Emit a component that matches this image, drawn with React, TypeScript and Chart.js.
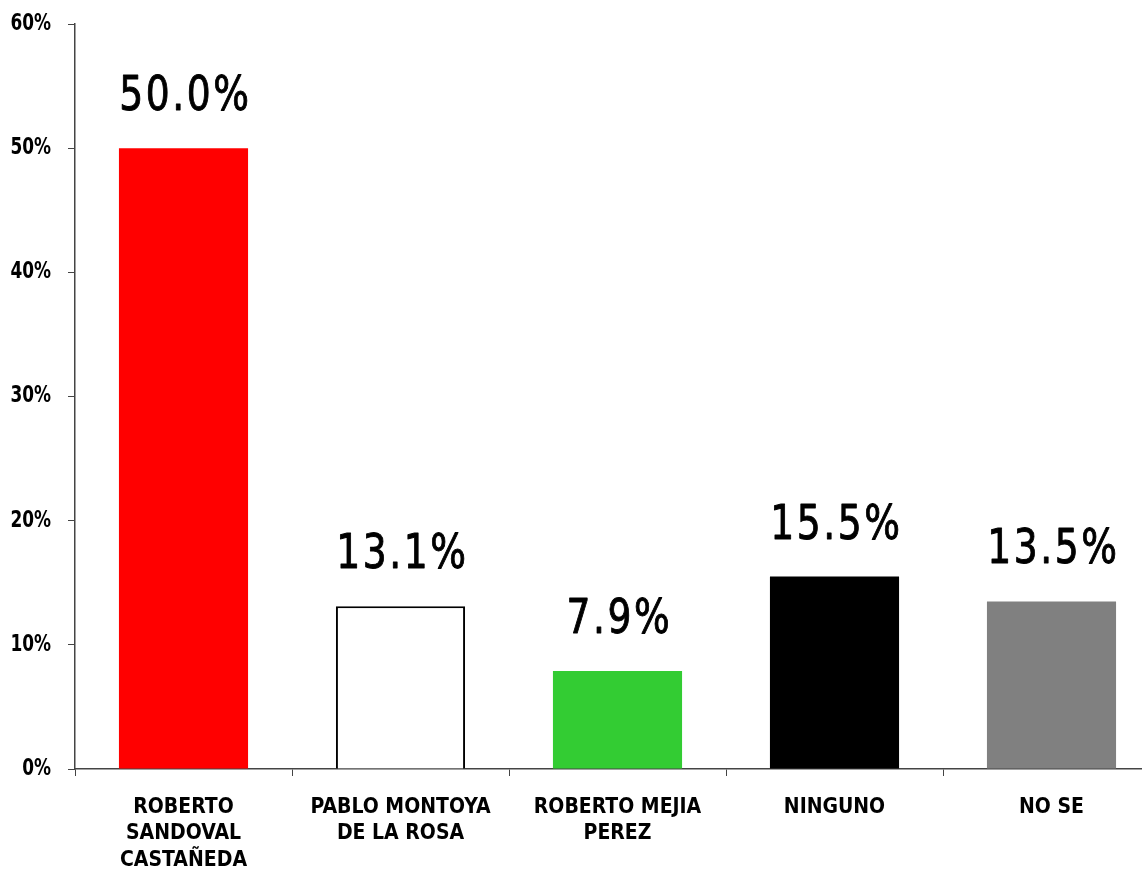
import React, { useEffect, useRef } from "react";
import { Chart, registerables } from "chart.js";

Chart.register(...registerables);

const categories: string[][] = [
  ["ROBERTO", "SANDOVAL", "CASTAÑEDA"],
  ["PABLO MONTOYA", "DE LA ROSA"],
  ["ROBERTO MEJIA", "PEREZ"],
  ["NINGUNO"],
  ["NO SE"],
];
const values: number[] = [50.0, 13.1, 7.9, 15.5, 13.5];
const barColors: string[] = ["#ff0000", "#ffffff", "#33cc33", "#000000", "#808080"];
const borderColors: string[] = ["#ff0000", "#000000", "#33cc33", "#000000", "#808080"];
const borderWidths: number[] = [0, 2, 0, 0, 0];
const yTicks: number[] = [0, 10, 20, 30, 40, 50, 60];

const FONT = "'DejaVu Sans Condensed', 'DejaVu Sans', sans-serif";

function drawSqueezed(ctx: CanvasRenderingContext2D, text: string, x: number, y: number, sx: number, align: CanvasTextAlign, stroke = 0) {
  ctx.save();
  ctx.translate(x, y);
  ctx.scale(sx, 1);
  ctx.textAlign = align;
  ctx.fillText(text, 0, 0);
  if (stroke > 0) {
    ctx.lineWidth = stroke;
    ctx.lineJoin = "round";
    ctx.strokeStyle = ctx.fillStyle as string;
    ctx.strokeText(text, 0, 0);
  }
  ctx.restore();
}

const customLabels = {
  id: "customLabels",
  afterDraw(chart: any) {
    const ctx: CanvasRenderingContext2D = chart.ctx;
    const meta = chart.getDatasetMeta(0);
    ctx.save();
    ctx.font = `48px ${FONT}`;
    ctx.fillStyle = "#000";
    ctx.textBaseline = "alphabetic";
    try { (ctx as any).letterSpacing = "3px"; } catch (e) {}
    meta.data.forEach((bar: any, i: number) => {
      drawSqueezed(ctx, values[i].toFixed(1) + "%", bar.x + 2, bar.y - 38, 0.87, "center", 0.9);
    });
    ctx.restore();
    const ys = chart.scales.y;
    ctx.save();
    ctx.font = `bold 23px ${FONT}`;
    ctx.fillStyle = "#000";
    ctx.textBaseline = "middle";
    ys.ticks.forEach((t: any) => {
      drawSqueezed(ctx, `${t.value}%`, ys.left + ys.width - 24, ys.getPixelForValue(t.value), 0.82, "right");
    });
    ctx.restore();
  },
};

export default function App() {
  const ref = useRef<HTMLCanvasElement | null>(null);
  useEffect(() => {
    if (!ref.current) return;
    const chart = new Chart(ref.current, {
      type: "bar",
      data: {
        labels: categories,
        datasets: [
          {
            data: values,
            backgroundColor: barColors,
            borderColor: borderColors,
            borderWidth: borderWidths,
            barPercentage: 0.595,
            categoryPercentage: 1,
          },
        ],
      },
      options: {
        animation: false,
        responsive: false,
        maintainAspectRatio: false,
        layout: { padding: { top: 24, right: 20, left: 0, bottom: 0 } },
        plugins: { legend: { display: false }, tooltip: { enabled: false } },
        scales: {
          x: {
            offset: true,
            grid: { display: true, drawOnChartArea: false, drawTicks: true, tickLength: 7, color: "#444", offset: true },
            border: { display: true, color: "#444", width: 1.5 },
            ticks: {
              color: "#000",
              font: { family: FONT, size: 21, weight: "bold", lineHeight: 1.27 },
              padding: 18,
              maxRotation: 0,
              autoSkip: false,
            },
            afterFit: (scale: any) => { scale.height = 872 - 769; },
          },
          y: {
            min: 0,
            max: 60,
            afterBuildTicks: (scale: any) => { scale.ticks = yTicks.map((v) => ({ value: v })); },
            grid: { display: true, drawOnChartArea: false, drawTicks: true, tickLength: 7, color: "#444" },
            border: { display: true, color: "#444", width: 1.5 },
            ticks: {
              color: "rgba(0,0,0,0)",
              font: { family: FONT, size: 1 },
              padding: 17,
              callback: (v: any) => `${v}%`,
            },
            afterFit: (scale: any) => { scale.width = 75; },
          },
        },
      },
      plugins: [customLabels],
    });
    return () => chart.destroy();
  }, []);
  return (
    <div style={{ position: "fixed", left: 0, top: 0, width: 1142, height: 872, overflow: "hidden", background: "#fff" }}>
      <canvas ref={ref} width={1180} height={872} style={{ width: 1180, height: 872, display: "block" }} />
    </div>
  );
}
